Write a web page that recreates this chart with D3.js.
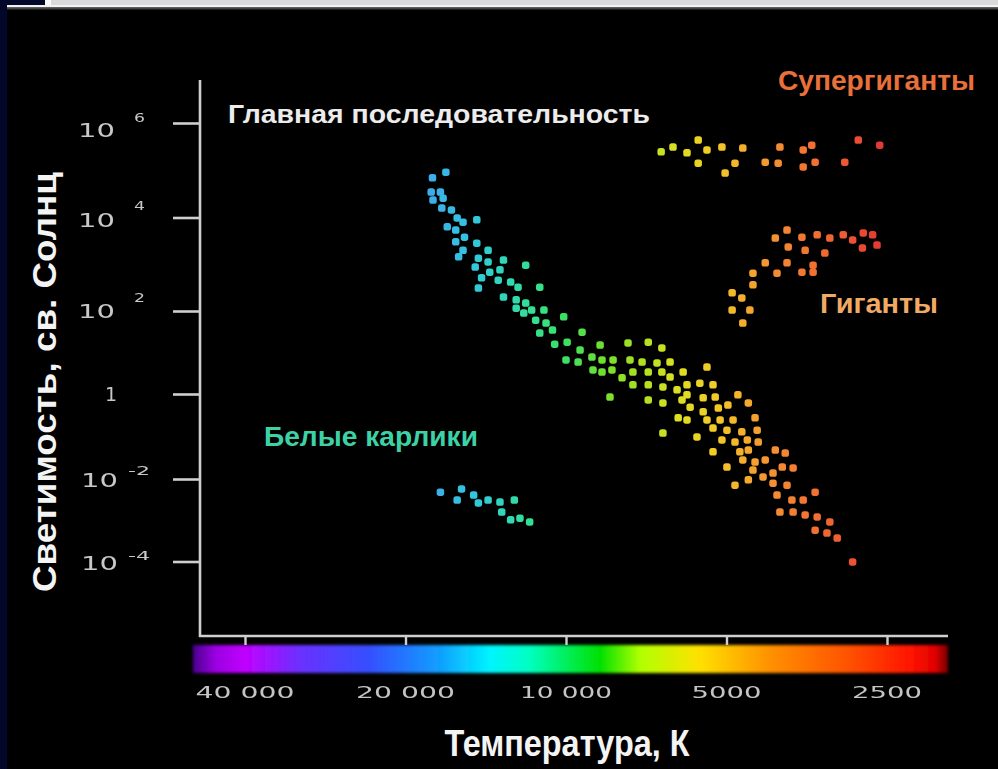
<!DOCTYPE html>
<html><head><meta charset="utf-8">
<script src="https://cdn.jsdelivr.net/npm/d3@7"></script>
<style>html,body{margin:0;padding:0;background:#000;overflow:hidden}</style>
</head><body><svg id="c" width="998" height="769"></svg>
<script>
// ---- data: [temperature K, log10 luminosity (L☉)] ----
const mainSequence = [
[16800,4.96],[17800,4.84],[17900,4.54],[17200,4.54],[17760,4.37],[17000,4.41],[17100,4.20],[16400,4.16],[16000,3.99],[15600,3.90],[14700,3.95],[16700,3.80],[16100,3.73],[15500,3.58],[16100,3.48],[14700,3.45],[15600,3.30],[14000,3.30],[15900,3.16],[14600,3.13],[14000,3.05],[13100,3.09],[14800,2.94],[13900,2.83],[13300,2.88],[11900,2.98],[14400,2.71],[13400,2.66],[12700,2.62],[14600,2.49],[12300,2.51],[11200,2.51],[13100,2.30],[12400,2.24],[11900,2.17],[12400,2.06],[11600,2.02],[12000,1.95],[11000,2.02],[10100,1.86],[11400,1.78],[10900,1.71],[10600,1.54],[11200,1.47],
[10500,1.20],[9950,1.25],[9330,1.49],[10000,0.82],[9410,1.06],[9490,0.77],[8940,0.89],[8630,1.18],[8560,0.82],[8900,0.58],[8560,0.53],[8200,0.58],[8160,0.82],[7650,1.23],[7585,0.82],[7850,0.39],[8270,-0.07],[7490,0.53],[7490,0.22],[7200,0.77],[7010,1.25],[7010,0.53],[7010,0.22],[7010,-0.14],[6610,1.11],[6750,0.75],[6610,0.53],[6580,0.17],[6580,-0.21],[6380,0.77],[6380,0.41],[6190,0.10],[6030,0.53],[6060,-0.14],[6160,-0.56],[6580,-0.92],[5440,0.65],
[5930,0.22],[5610,0.26],[5300,0.22],[5930,-0.02],[5530,-0.09],[5250,-0.07],[4760,-0.02],[4550,-0.21],[5850,-0.31],[5530,-0.42],[5180,-0.33],[4970,-0.26],[5930,-0.61],[5440,-0.61],[5140,-0.61],[4860,-0.61],[4420,-0.56],[4380,-0.85],[5300,-0.80],[4990,-0.85],[4680,-0.89],[5680,-1.01],[5100,-1.08],[4820,-1.13],[4570,-1.08],[4360,-1.13],[4720,-1.36],[4550,-1.32],[5300,-1.36],[4050,-1.32],[3880,-1.39],[4660,-1.55],[4420,-1.60],[4230,-1.55],[4990,-1.72],[4460,-1.79],[3930,-1.72],[3750,-1.74],[4270,-1.95],[4090,-1.86],[4550,-2.02],[4820,-2.15],[4090,-2.10],[3850,-2.15],[4020,-2.39],[3770,-2.51],[3590,-2.51],[3410,-2.32],[3970,-2.80],[3750,-2.80],[3560,-2.87],[3380,-2.92],[3200,-3.04],[3410,-3.24],[3240,-3.31],[3100,-3.43],[2900,-4.01]
];
const supergiants = [
[6630,5.39],[6300,5.49],[5930,5.37],[5650,5.64],[5440,5.43],[5650,5.15],[5100,5.49],[5030,4.94],[4820,5.15],[4660,5.47],[4230,5.17],[3970,5.49],[4000,5.15],[3590,5.43],[3460,5.53],[3590,5.07],[3410,5.17],[3000,5.17],[2830,5.64],[2580,5.53]
];
const giants = [
[4050,3.56],[3850,3.73],[3610,3.58],[3380,3.63],[3200,3.56],[3020,3.63],[2900,3.52],[2770,3.67],[2660,3.63],[2780,3.35],[2610,3.41],[3830,3.37],[3560,3.30],[3270,3.24],[4230,3.03],[3850,3.03],[3440,2.98],[4020,2.81],[3610,2.83],[3440,2.83],[4460,2.81],[4460,2.56],[4880,2.39],[4680,2.28],[4880,2.02],[4520,2.02],[4660,1.71]
];
const whiteDwarfs = [
[17200,-2.32],[15700,-2.24],[16000,-2.51],[14900,-2.39],[14600,-2.58],[14000,-2.51],[13300,-2.56],[12500,-2.51],[13200,-2.80],[12700,-2.99],[12200,-2.95],[11700,-3.04]
];
const xTickValues = [40000, 20000, 10000, 5000, 2500];
const xTickLabels = ["40 000", "20 000", "10 000", "5000", "2500"];
const yTickValues = [6, 4, 2, 0, -2, -4];
const yTickBase = ["10", "10", "10", "1", "10", "10"];
const yTickExp = ["6", "4", "2", "", "-2", "-4"];
const dotColorT = [18000,15000,13000,11500,10000,8500,7200,6200,5200,4400,3700,3100,2700,2500];
const dotColors = ["#3eacea","#32c6de","#30d6b8","#34e090","#3ce060","#70e030","#b0e020","#dce020","#f4c828","#f4a030","#f47c30","#ee6030","#e84434","#e03038"];
const barColorT = [50000,45500,40000,31500,23300,17200,13900,11700,8630,7260,5610,4140,2930,2260,2030,1920];
const barColors = ["#4a0090","#9a00e0","#c000ff","#6a30ff","#3450ff","#10a0ff","#00f4ff","#00ffc0","#00e000","#b0ff00","#ffe000","#ff9000","#ff5000","#ff1400","#e00000","#700000"];

// ---- layout ----
const svg = d3.select("#c");
const x = d3.scaleLog().domain([40000, 2500]).range([245, 887]);
const y = d3.scaleLinear().domain([-4, -2, 0, 2, 4, 6]).range([561.5, 479, 394, 311, 217.5, 123]);
const col = d3.scaleLog().domain(dotColorT).range(dotColors).clamp(true);

const defs = svg.append("defs");
defs.append("filter").attr("id","soft").attr("x","-20%").attr("y","-20%").attr("width","140%").attr("height","140%")
  .append("feGaussianBlur").attr("stdDeviation", 0.7);
defs.append("filter").attr("id","barblur").attr("x","-5%").attr("y","-40%").attr("width","110%").attr("height","180%")
  .append("feGaussianBlur").attr("stdDeviation", 1.6);
defs.append("filter").attr("id","txtblur").append("feGaussianBlur").attr("stdDeviation", 0.35);
const barX0 = 193, barX1 = 948;
const grad = defs.append("linearGradient").attr("id","spec").attr("x1","0").attr("x2","1").attr("y1","0").attr("y2","0");
barColorT.forEach((t,i)=>{
  grad.append("stop").attr("offset", (x(t)-barX0)/(barX1-barX0)).attr("stop-color", barColors[i]);
});

// background & frame remnants
svg.append("rect").attr("width",998).attr("height",769).attr("fill","#000");
svg.append("rect").attr("x",0).attr("y",0).attr("width",7).attr("height",769).attr("fill","#03072a");
svg.append("rect").attr("x",0).attr("y",0).attr("width",998).attr("height",5).attr("fill","#d9d9db");
svg.append("rect").attr("x",0).attr("y",0).attr("width",45).attr("height",5).attr("fill","#03072a");
svg.append("rect").attr("x",45).attr("y",0).attr("width",6).attr("height",5).attr("fill","#fafafa");
svg.append("rect").attr("x",7).attr("y",5).attr("width",991).attr("height",2.5).attr("fill","#f2f2f2");
svg.append("rect").attr("x",7).attr("y",7.5).attr("width",991).attr("height",2).attr("fill","#444");

// colour bar
svg.append("rect").attr("x",barX0).attr("y",645).attr("width",barX1-barX0).attr("height",28)
  .attr("fill","url(#spec)").attr("filter","url(#barblur)");

// axes
const axisCol = "#cfcfcf";
svg.append("line").attr("x1",200).attr("x2",200).attr("y1",80).attr("y2",637).attr("stroke",axisCol).attr("stroke-width",2.6);
svg.append("line").attr("x1",199).attr("x2",948).attr("y1",636).attr("y2",636).attr("stroke",axisCol).attr("stroke-width",2.6);

const gx = svg.append("g").attr("transform","translate(0,636)")
  .call(d3.axisBottom(x).tickValues(xTickValues).tickSize(9).tickFormat(""));
gx.select(".domain").remove();
gx.selectAll(".tick line").attr("stroke",axisCol).attr("stroke-width",2.4);

const gy = svg.append("g").attr("transform","translate(200,0)")
  .call(d3.axisLeft(y).tickValues(yTickValues).tickSize(27).tickFormat(""));
gy.select(".domain").remove();
gy.selectAll(".tick line").attr("stroke",axisCol).attr("stroke-width",2.6);

// tick labels
const tickFont = "'DejaVu Sans', sans-serif";
svg.append("g").attr("filter","url(#txtblur)").selectAll("text").data(xTickValues).join("text")
  .attr("x", d=>x(d)).attr("y", 698)
  .attr("text-anchor","middle")
  .attr("font-family",tickFont).attr("font-size",15)
  .attr("fill","#c4c4c4")
  .attr("textLength",(d,i)=> xTickLabels[i].length>4 ? (i==2?92:99) : 70)
  .attr("lengthAdjust","spacingAndGlyphs")
  .text((d,i)=>xTickLabels[i]);

const yl = svg.append("g").attr("filter","url(#txtblur)");
const baseOff = {6:14, 4:9, 2:7, 0:7, "-2":8, "-4":8};
const expOff = {6:-1, 4:-8, 2:-9, "-2":-4, "-4":-2};
yTickValues.forEach((v,i)=>{
  const yy = y(v);
  if (yTickExp[i] === "") {
    yl.append("text").attr("x",117).attr("y",yy+baseOff[v]).attr("text-anchor","end")
      .attr("font-family",tickFont).attr("font-size",19).attr("fill","#c8c8c8").text(yTickBase[i]);
  } else {
    yl.append("text").attr("x", v<0 ? 81 : 78).attr("y",yy+baseOff[v])
      .attr("font-family",tickFont).attr("font-size",19).attr("fill","#c8c8c8")
      .attr("textLength",37).attr("lengthAdjust","spacingAndGlyphs").text(yTickBase[i]);
    yl.append("text").attr("x", v<0 ? 128 : 134).attr("y",yy+expOff[v])
      .attr("font-family",tickFont).attr("font-size",13).attr("fill","#c8c8c8")
      .attr("textLength", v<0 ? 22 : 11).attr("lengthAdjust","spacingAndGlyphs")
      .text(yTickExp[i]);
  }
});

// stars
const groups = [mainSequence, supergiants, giants, whiteDwarfs];
const sz = 7.5;
const dots = svg.append("g").attr("filter","url(#soft)");
groups.forEach(g=>{
  dots.append("g").selectAll("rect").data(g).join("rect")
    .attr("x", d=>x(d[0])-sz/2).attr("y", d=>y(d[1])-sz/2)
    .attr("width",sz).attr("height",sz).attr("rx",2.6)
    .attr("fill", d=>col(d[0]));
});

// labels
const lab = "'Liberation Sans', Arial, sans-serif";
function label(txt, xx, yy, len, size, fill){
  svg.append("text").attr("x",xx).attr("y",yy).attr("font-family",lab).attr("font-weight","bold")
    .attr("font-size",size).attr("fill",fill).attr("textLength",len).attr("lengthAdjust","spacingAndGlyphs").text(txt);
}
label("Главная последовательность", 228, 123, 422, 26, "#ececec");
label("Супергиганты", 778, 90, 197, 27, "#e8703a");
label("Гиганты", 820, 313, 118, 27, "#f0aa66");
label("Белые карлики", 264, 446, 214, 27, "#3cd2a6");

svg.append("text").attr("transform","translate(56,382) rotate(-90)")
  .attr("text-anchor","middle").attr("font-family",lab).attr("font-weight","bold")
  .attr("font-size",34).attr("fill","#f4f4f4").attr("textLength",420).attr("lengthAdjust","spacingAndGlyphs")
  .text("Светимость, св. Солнц");
svg.append("text").attr("x",567).attr("y",756)
  .attr("text-anchor","middle").attr("font-family",lab).attr("font-weight","bold")
  .attr("font-size",37).attr("fill","#f4f4f4").attr("textLength",245).attr("lengthAdjust","spacingAndGlyphs")
  .text("Температура, К");
</script></body></html>
